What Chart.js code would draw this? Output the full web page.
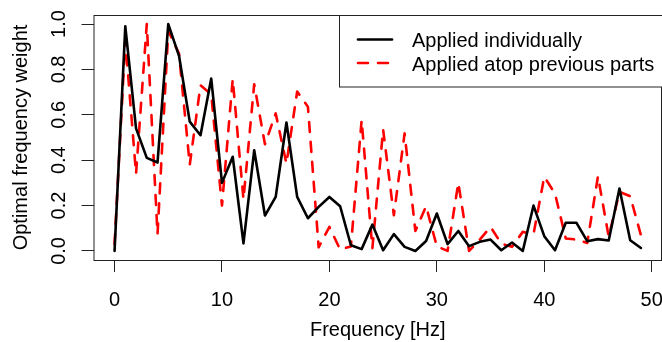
<!DOCTYPE html>
<html>
<head>
<meta charset="utf-8">
<script src="https://cdn.jsdelivr.net/npm/chart.js@4"></script>
<style>
  html, body { margin: 0; padding: 0; background: #fff; }
  #wrap { width: 662px; height: 342px; }
</style>
</head>
<body>
<div id="wrap"><canvas id="freqChart" width="662" height="342"></canvas></div>
<script>
const freqs = [0, 1, 2, 3, 4, 5, 6, 7, 8, 9,
  10, 11, 12, 13, 14, 15, 16, 17, 18, 19,
  20, 21, 22, 23, 24, 25, 26, 27, 28, 29,
  30, 31, 32, 33, 34, 35, 36, 37, 38, 39,
  40, 41, 42, 43, 44, 45, 46, 47, 48, 49];

const individually = [0.0, 0.99, 0.54, 0.41, 0.39, 1.0, 0.86, 0.57, 0.51, 0.76,
  0.30, 0.415, 0.033, 0.444, 0.156, 0.238, 0.566, 0.238, 0.144, 0.194,
  0.238, 0.197, 0.025, 0.008, 0.116, 0.003, 0.074, 0.018, 0.0, 0.044,
  0.165, 0.03, 0.088, 0.021, 0.04, 0.05, 0.003, 0.037, 0.0, 0.20,
  0.065, 0.003, 0.124, 0.124, 0.043, 0.052, 0.046, 0.275, 0.047, 0.013];

const atopPrevious = [0.03, 0.93, 0.34, 1.0, 0.074, 0.97, 0.87, 0.38, 0.73, 0.69,
  0.20, 0.757, 0.228, 0.735, 0.47, 0.606, 0.385, 0.703, 0.635, 0.016,
  0.106, 0.006, 0.02, 0.576, 0.012, 0.535, 0.157, 0.518, 0.088, 0.197,
  0.02, 0.0, 0.30, 0.0, 0.05, 0.106, 0.032, 0.018, 0.084, 0.074,
  0.327, 0.253, 0.055, 0.05, 0.035, 0.329, 0.062, 0.26, 0.241, 0.069];

const xTicks = [0, 10, 20, 30, 40, 50];
const yTicks = [0, 0.2, 0.4, 0.6, 0.8, 1.0];
const seriesNames = ['Applied individually', 'Applied atop previous parts'];

const FONT = '"Liberation Sans", Arial, Helvetica, sans-serif';

// base-R look: full box, rotated y labels, boxed legend top right
const rStyle = {
    id: 'rStyle',
    afterDraw(chart) {
        const ctx = chart.ctx;
        const a = chart.chartArea;
        const y = chart.scales.y;
        ctx.save();
        ctx.strokeStyle = '#222';
        ctx.lineWidth = 1;
        ctx.strokeRect(a.left + 0.5, a.top + 0.5, a.right - a.left - 1, a.bottom - a.top);

        ctx.fillStyle = '#000';
        ctx.font = '20px ' + FONT;
        ctx.textAlign = 'center';
        ctx.textBaseline = 'alphabetic';
        yTicks.forEach(v => {
            ctx.save();
            ctx.translate(65, y.getPixelForValue(v));
            ctx.rotate(-Math.PI / 2);
            ctx.fillText(v.toFixed(1), 0, 0);
            ctx.restore();
        });

        // legend
        const lx = 339.5, ly = a.top + 0.5, lb = 87;
        ctx.fillStyle = '#fff';
        ctx.fillRect(lx, ly, a.right - lx, lb - ly);
        ctx.strokeRect(lx, ly, a.right - lx + 5, lb - ly);
        const rows = [39.5, 63];
        const bases = [47.3, 70.7];
        chart.data.datasets.forEach((ds, i) => {
            ctx.save();
            ctx.strokeStyle = ds.borderColor;
            ctx.lineWidth = ds.borderWidth;
            ctx.lineCap = 'round';
            ctx.setLineDash(ds.borderDash || []);
            ctx.beginPath();
            ctx.moveTo(358, rows[i]);
            ctx.lineTo(392, rows[i]);
            ctx.stroke();
            ctx.restore();
            ctx.fillStyle = '#000';
            ctx.textAlign = 'left';
            ctx.fillText(ds.label, 412, bases[i]);
        });
        ctx.restore();
    }
};

new Chart(document.getElementById('freqChart'), {
    type: 'line',
    data: {
        datasets: [{
            label: seriesNames[0],
            data: freqs.map((f, i) => ({ x: f, y: individually[i] })),
            borderColor: '#000000',
            borderWidth: 2.6,
            borderCapStyle: 'round',
            borderJoinStyle: 'round',
            pointRadius: 0,
            tension: 0
        }, {
            label: seriesNames[1],
            data: freqs.map((f, i) => ({ x: f, y: atopPrevious[i] })),
            borderColor: '#ff0000',
            borderWidth: 2.6,
            borderDash: [10, 10],
            borderCapStyle: 'round',
            borderJoinStyle: 'round',
            pointRadius: 0,
            tension: 0
        }]
    },
    options: {
        responsive: false,
        animation: false,
        devicePixelRatio: 1,
        layout: { padding: { top: 15, right: 0, left: 0, bottom: 0 } },
        plugins: {
            legend: { display: false },
            tooltip: { enabled: false }
        },
        scales: {
            x: {
                type: 'linear',
                min: -1.96,
                max: 50.96,
                afterBuildTicks: s => { s.ticks = xTicks.map(v => ({ value: v })); },
                afterFit: s => { s.height = 82; s.paddingLeft = 0; s.paddingRight = 0; },
                grid: { drawOnChartArea: false, drawTicks: true, tickLength: 12, color: '#222' },
                border: { display: false },
                ticks: { color: '#000', font: { size: 20, family: FONT }, padding: 16, maxRotation: 0, autoSkip: false },
                title: { display: true, text: 'Frequency [Hz]', color: '#000', font: { size: 20, family: FONT }, padding: { top: 0, bottom: 0 } }
            },
            y: {
                min: -0.04,
                max: 1.04,
                afterBuildTicks: s => { s.ticks = yTicks.map(v => ({ value: v })); },
                afterFit: s => { s.width = 93.5; },
                grid: { drawOnChartArea: false, drawTicks: true, tickLength: 12, color: '#222' },
                border: { display: false },
                ticks: { display: false },
                title: { display: true, text: 'Optimal frequency weight', color: '#000', font: { size: 20, family: FONT }, padding: { top: 9, bottom: 0 } }
            }
        }
    },
    plugins: [rStyle]
});
</script>
</body>
</html>
